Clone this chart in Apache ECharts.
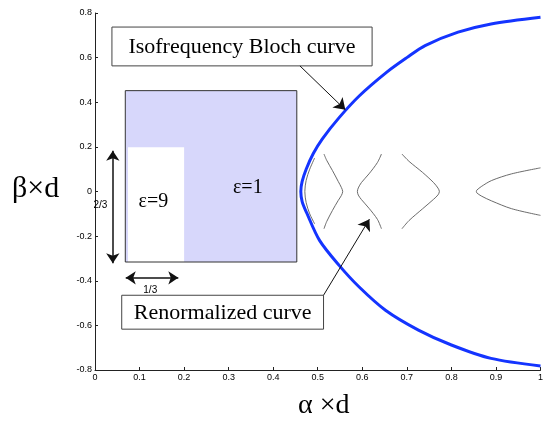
<!DOCTYPE html>
<html>
<head>
<meta charset="utf-8">
<script src="https://cdn.jsdelivr.net/npm/echarts@6/dist/echarts.min.js"></script>
<style>html,body{margin:0;padding:0;background:#fff}#c{width:546px;height:426px}</style>
</head>
<body>
<div id="c"></div>
<script>
// ---- Data (alpha*d, beta*d) ----
const xTicks = [0, 0.1, 0.2, 0.3, 0.4, 0.5, 0.6, 0.7, 0.8, 0.9, 1];
const yTicks = [-0.8, -0.6, -0.4, -0.2, 0, 0.2, 0.4, 0.6, 0.8];

// Isofrequency Bloch curve (blue), traced top to bottom
const blochCurve = [
  [1.0, 0.781], [0.889, 0.751], [0.815, 0.714], [0.741, 0.654], [0.70, 0.60],
  [0.655, 0.535], [0.593, 0.428], [0.548, 0.331], [0.51, 0.235], [0.49, 0.17],
  [0.474, 0.1], [0.465, 0.045], [0.462, 0.0], [0.465, -0.045], [0.475, -0.095],
  [0.504, -0.219], [0.548, -0.331], [0.593, -0.428], [0.652, -0.532], [0.726, -0.621],
  [0.8, -0.688], [0.889, -0.748], [1.0, -0.782]
];

// Renormalized curves (thin grey)
const renormA = [[0.493, 0.15], [0.482, 0.1], [0.474, 0.05], [0.471, 0.0], [0.474, -0.05], [0.482, -0.1], [0.493, -0.145]];
const renormB = [[0.514, 0.168], [0.520, 0.14], [0.533, 0.094], [0.546, 0.045], [0.553, 0.018], [0.556, 0.0], [0.553, -0.018], [0.546, -0.04], [0.533, -0.085], [0.520, -0.135], [0.514, -0.167]];
const renormC = [[0.643, 0.168], [0.634, 0.13], [0.615, 0.079], [0.598, 0.04], [0.591, 0.016], [0.589, 0.0], [0.591, -0.016], [0.598, -0.036], [0.615, -0.075], [0.634, -0.125], [0.643, -0.167]];
const renormD = [[0.689, 0.168], [0.705, 0.135], [0.735, 0.086], [0.760, 0.04], [0.770, 0.015], [0.773, 0.0], [0.770, -0.015], [0.760, -0.035], [0.735, -0.078], [0.705, -0.13], [0.689, -0.167]];
const renormE = [[1.0, 0.106], [0.935, 0.079], [0.89, 0.049], [0.867, 0.022], [0.857, 0.006], [0.856, 0.0], [0.857, -0.006], [0.867, -0.02], [0.89, -0.042], [0.935, -0.077], [1.0, -0.107]];

// Inset (unit cell) drawn in chart coordinates: [x1, y1, x2, y2]
const insetCell = [0.068, 0.452, 0.453, -0.316];
const insetInclusion = [0.074, 0.198, 0.2, -0.316];
const insetLabels = [
  { text: 'ε=9', pos: [0.131, -0.048] },
  { text: 'ε=1', pos: [0.343, 0.019] }
];
const dimLabels = [
  { text: '2/3', pos: [0.012, -0.063] },
  { text: '1/3', pos: [0.124, -0.442] }
];
const dimArrows = [
  [[0.04, 0.183], [0.04, -0.322]],
  [[0.069, -0.387], [0.187, -0.387]]
];

// Callout boxes [x1, y1, x2, y2] and their pointers
const callouts = [
  { text: 'Isofrequency Bloch curve', box: [0.038, 0.737, 0.622, 0.563] },
  { text: 'Renormalized curve', box: [0.06, -0.465, 0.513, -0.617] }
];
const pointers = [
  [[0.46, 0.563], [0.562, 0.366]],
  [[0.513, -0.465], [0.616, -0.124]]
];

const chart = echarts.init(document.getElementById('c'), null, { renderer: 'canvas' });

const serifFont = '"Liberation Serif", "Times New Roman", serif';
const sansFont = '"Liberation Sans", Arial, sans-serif';

function thinSeries(data) {
  return {
    type: 'line', data: data, showSymbol: false, smooth: 0.3,
    lineStyle: { color: '#5a5a5a', width: 0.9 }, z: 3, silent: true
  };
}

const option = {
  animation: false,
  backgroundColor: '#ffffff',
  grid: { left: 95, right: 0, top: 13, bottom: 56, containLabel: false },
  xAxis: {
    type: 'value', min: 0, max: 1, interval: 0.1,
    axisLine: { onZero: false, lineStyle: { color: '#222', width: 1 } },
    axisTick: { inside: true, length: 3, lineStyle: { color: '#222' } },
    axisLabel: { color: '#000', fontSize: 9, fontFamily: sansFont, margin: 3,
      formatter: v => String(Math.round(v * 10) / 10) },
    splitLine: { show: false }
  },
  yAxis: {
    type: 'value', min: -0.8, max: 0.8, interval: 0.2,
    axisLine: { show: true, onZero: false, lineStyle: { color: '#222', width: 1 } },
    axisTick: { show: true, inside: true, length: 3, lineStyle: { color: '#222' } },
    axisLabel: { color: '#000', fontSize: 9, fontFamily: sansFont, margin: 3,
      formatter: v => String(Math.round(v * 10) / 10) },
    splitLine: { show: false }
  },
  graphic: [
    { type: 'text', left: 12, top: 174, style: { text: 'β×d', font: '30px ' + serifFont, fill: '#000' } },
    { type: 'text', left: 298, top: 392, style: { text: 'α ×d', font: '28px ' + serifFont, fill: '#000' } }
  ],
  series: [
    // inset unit cell
    {
      type: 'custom', z: 2, silent: true,
      data: [insetCell.concat(insetInclusion)],
      renderItem: function (params, api) {
        const p1 = api.coord([api.value(0), api.value(1)]);
        const p2 = api.coord([api.value(2), api.value(3)]);
        const q1 = api.coord([api.value(4), api.value(5)]);
        const q2 = api.coord([api.value(6), api.value(7)]);
        return {
          type: 'group', children: [
            { type: 'rect', shape: { x: p1[0], y: p1[1], width: p2[0] - p1[0], height: p2[1] - p1[1] },
              style: { fill: '#d7d7fb', stroke: null } },
            { type: 'rect', shape: { x: q1[0], y: q1[1], width: q2[0] - q1[0], height: q2[1] - q1[1] },
              style: { fill: '#ffffff', stroke: null } },
            { type: 'rect', shape: { x: p1[0], y: p1[1], width: p2[0] - p1[0], height: p2[1] - p1[1] },
              style: { fill: 'none', stroke: '#333', lineWidth: 1 } }
          ]
        };
      }
    },
    // inset permittivity labels
    {
      type: 'custom', z: 4, silent: true,
      data: insetLabels.map(d => [d.pos[0], d.pos[1]]),
      renderItem: function (params, api) {
        const p = api.coord([api.value(0), api.value(1)]);
        return { type: 'text', x: p[0], y: p[1],
          style: { text: insetLabels[params.dataIndex].text, font: '20px ' + serifFont, fill: '#000', align: 'center', verticalAlign: 'middle' } };
      }
    },
    // dimension labels
    {
      type: 'custom', z: 4, silent: true,
      data: dimLabels.map(d => [d.pos[0], d.pos[1]]),
      renderItem: function (params, api) {
        const p = api.coord([api.value(0), api.value(1)]);
        return { type: 'text', x: p[0], y: p[1],
          style: { text: dimLabels[params.dataIndex].text, font: '10px ' + sansFont, fill: '#000', align: 'center', verticalAlign: 'middle' } };
      }
    },
    // callout boxes
    {
      type: 'custom', z: 4, silent: true,
      data: callouts.map(c => c.box),
      renderItem: function (params, api) {
        const p1 = api.coord([api.value(0), api.value(1)]);
        const p2 = api.coord([api.value(2), api.value(3)]);
        return {
          type: 'group', children: [
            { type: 'rect', shape: { x: p1[0], y: p1[1], width: p2[0] - p1[0], height: p2[1] - p1[1] },
              style: { fill: '#fff', stroke: '#444', lineWidth: 1 } },
            { type: 'text', x: (p1[0] + p2[0]) / 2, y: (p1[1] + p2[1]) / 2 + 1,
              style: { text: callouts[params.dataIndex].text, font: '22px ' + serifFont, fill: '#000', align: 'center', verticalAlign: 'middle' } }
          ]
        };
      }
    },
    // blue isofrequency curve
    {
      type: 'line', data: blochCurve, showSymbol: false, smooth: 0.3, z: 5, silent: true,
      lineStyle: { color: '#1434ff', width: 3 }
    },
    thinSeries(renormA), thinSeries(renormB), thinSeries(renormC), thinSeries(renormD), thinSeries(renormE),
    // pointer arrows
    {
      type: 'lines', coordinateSystem: 'cartesian2d', z: 6, silent: true,
      symbol: ['none', 'arrow'], symbolSize: 11,
      lineStyle: { color: '#111', width: 1, opacity: 1, curveness: 0 },
      data: pointers.map(c => ({ coords: c }))
    },
    // dimension arrows
    {
      type: 'lines', coordinateSystem: 'cartesian2d', z: 6, silent: true,
      symbol: ['arrow', 'arrow'], symbolSize: 10,
      lineStyle: { color: '#111', width: 1.5, opacity: 1, curveness: 0 },
      data: dimArrows.map(c => ({ coords: c }))
    }
  ]
};
chart.setOption(option);
</script>
</body>
</html>
